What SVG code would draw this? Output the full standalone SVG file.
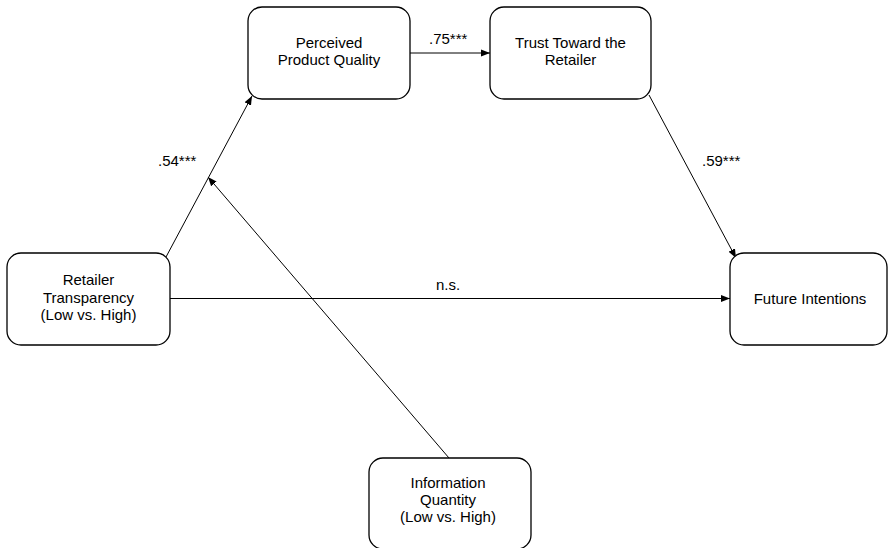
<svg xmlns="http://www.w3.org/2000/svg" width="888" height="548" viewBox="0 0 888 548">
<defs>
<style>
.box{fill:#fff;stroke:#000;stroke-width:1.3}
.t{font-family:"Liberation Sans",Arial,Helvetica,sans-serif;font-size:15px;fill:#000;text-anchor:middle}
.l{font-family:"Liberation Sans",Arial,Helvetica,sans-serif;font-size:15px;fill:#000}
.e{fill:none;stroke:#000;stroke-width:1}
</style>
<marker id="ah" viewBox="0 0 10 10" refX="10" refY="5" markerWidth="9" markerHeight="9" markerUnits="userSpaceOnUse" orient="auto">
<path d="M0,1 L10,5 L0,9 Z" fill="#000"/>
</marker>
</defs>
<rect width="888" height="548" fill="#fff"/>
<g id="connectors">
<line class="e" x1="410" y1="53" x2="490" y2="53" marker-end="url(#ah)"/>
<line class="e" x1="166" y1="257" x2="252" y2="96" marker-end="url(#ah)"/>
<line class="e" x1="449" y1="458" x2="208" y2="177" marker-end="url(#ah)"/>
<line class="e" x1="649" y1="95" x2="736" y2="258" marker-end="url(#ah)"/>
<line class="e" x1="170" y1="298.5" x2="730" y2="298.5" marker-end="url(#ah)"/>
<text class="l" x="429" y="44">.75***</text>
<text class="l" x="158" y="166">.54***</text>
<text class="l" x="702" y="166">.59***</text>
<text class="l" x="448" y="290" text-anchor="middle">n.s.</text>
</g>
<g id="ppq">
<rect class="box" x="248" y="7" width="162" height="92" rx="14"/>
<text class="t" x="329" y="48">Perceived</text>
<text class="t" x="329" y="65">Product Quality</text>
</g>
<g id="trust">
<rect class="box" x="490" y="7" width="161" height="92" rx="14"/>
<text class="t" x="570.5" y="48">Trust Toward the</text>
<text class="t" x="570.5" y="65">Retailer</text>
</g>
<g id="rt">
<rect class="box" x="7" y="253" width="163" height="92" rx="14"/>
<text class="t" x="88.5" y="285">Retailer</text>
<text class="t" x="88.5" y="303">Transparency</text>
<text class="t" x="88.5" y="320">(Low vs. High)</text>
</g>
<g id="fi">
<rect class="box" x="730" y="253" width="157" height="92" rx="14"/>
<text class="t" x="810" y="304">Future Intentions</text>
</g>
<g id="iq">
<rect class="box" x="369" y="458" width="162" height="91" rx="14"/>
<text class="t" x="448" y="488">Information</text>
<text class="t" x="448" y="505">Quantity</text>
<text class="t" x="448" y="522">(Low vs. High)</text>
</g>
</svg>
